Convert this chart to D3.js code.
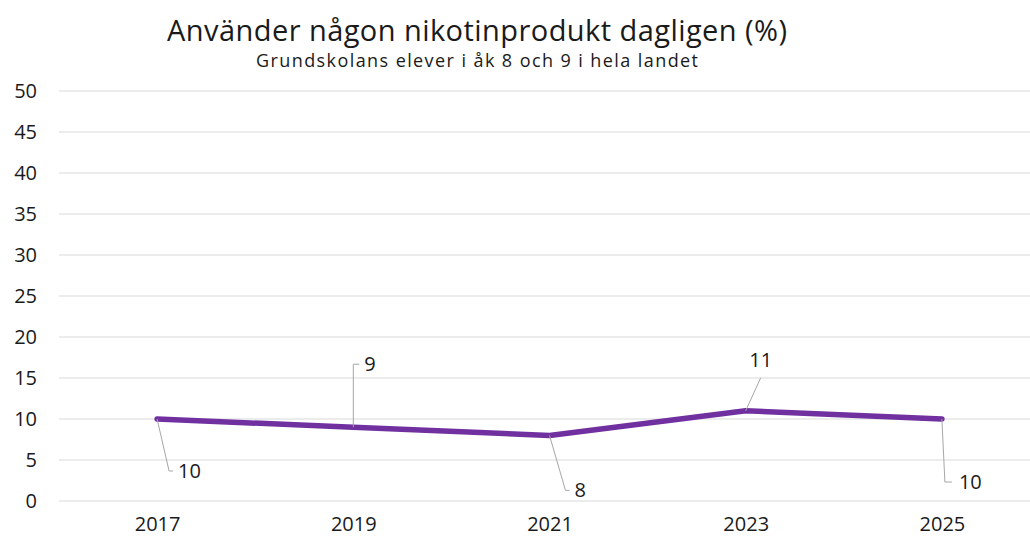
<!DOCTYPE html>
<html>
<head>
<meta charset="utf-8">
<script src="https://cdn.jsdelivr.net/npm/d3@7"></script>
<style>
  body { margin: 0; background: #fff; }
  text { font-family: "Open Sans", "Noto Sans", sans-serif; fill: #1a1a1a; }
</style>
</head>
<body>
<div id="chart"></div>
<script>
var years = ["2017", "2019", "2021", "2023", "2025"];
var values = [10, 9, 8, 11, 10];
var yTicks = [0, 5, 10, 15, 20, 25, 30, 35, 40, 45, 50];
var labelPos = ["below", "above-left", "below", "above", "below"];

var width = 1030;
var height = 539;
var margin = { top: 91, right: -10, bottom: 38, left: 59 };

var svg = d3
  .select("#chart")
  .append("svg")
  .attr("width", width)
  .attr("height", height);

var xScale = d3
  .scalePoint()
  .domain(years)
  .range([margin.left, width - margin.right])
  .padding(0.5);

var yScale = d3
  .scaleLinear()
  .domain([0, 50])
  .range([height - margin.bottom, margin.top]);

// gridlines
svg
  .append("g")
  .selectAll("line")
  .data(yTicks)
  .join("line")
  .attr("x1", margin.left)
  .attr("x2", width)
  .attr("y1", (d) => yScale(d))
  .attr("y2", (d) => yScale(d))
  .attr("stroke", "#d9d9d9")
  .attr("stroke-width", 1);

// y axis labels
var yAxis = svg
  .append("g")
  .attr("transform", "translate(" + (margin.left - 22) + ",0)")
  .call(d3.axisLeft(yScale).tickValues(yTicks).tickSize(0).tickPadding(0));
yAxis.select(".domain").remove();
yAxis.selectAll("text").style("font-size", "20px").attr("fill", "#1a1a1a");

// x axis labels
var xAxis = svg
  .append("g")
  .attr("transform", "translate(0," + (height - margin.bottom) + ")")
  .call(d3.axisBottom(xScale).tickSize(0).tickPadding(16));
xAxis.select(".domain").remove();
xAxis.selectAll("text").style("font-size", "20px").attr("fill", "#1a1a1a");

// line
svg
  .append("path")
  .datum(values)
  .attr("fill", "none")
  .attr("stroke", "#7030a0")
  .attr("stroke-width", 5.5)
  .attr("stroke-linecap", "round")
  .attr("stroke-linejoin", "round")
  .attr(
    "d",
    d3
      .line()
      .x((d, i) => xScale(years[i]))
      .y((d) => yScale(d))
  );

// data labels with leader lines
var leaders = {
  "below": { ex: 12, ey: 52, hx: 4, tx: 9, anchor: "start", ty: 52 },
  "above-left": { ex: 0, ey: -63, hx: 6, tx: 11, anchor: "start", ty: -63 },
  "above": { ex: 15, ey: -33, hx: 0, tx: 0, anchor: "middle", ty: -51 }
};

values.forEach(function (v, i) {
  var px = xScale(years[i]);
  var py = yScale(v);
  var L = leaders[labelPos[i]];
  if (i === 2) L = { ex: 16, ey: 55, hx: 4, tx: 9, anchor: "start", ty: 55 };
  if (i === 4) L = { ex: 3, ey: 63, hx: 7, tx: 14, anchor: "start", ty: 63 };
  var pts = [
    [px, py],
    [px + L.ex, py + L.ey],
    [px + L.ex + L.hx, py + L.ey]
  ];
  svg
    .append("path")
    .attr("d", d3.line()(pts))
    .attr("fill", "none")
    .attr("stroke", "#a6a6a6")
    .attr("stroke-width", 1);
  svg
    .append("text")
    .attr("x", px + L.ex + L.tx)
    .attr("y", py + L.ty)
    .attr("dy", "0.35em")
    .attr("text-anchor", L.anchor)
    .style("font-size", "20px")
    .text(v);
});

// titles
svg
  .append("text")
  .attr("x", 477)
  .attr("y", 41)
  .attr("text-anchor", "middle")
  .attr("textLength", 620)
  .attr("lengthAdjust", "spacing")
  .style("font-size", "29px")
  .text("Använder någon nikotinprodukt dagligen (%)");

svg
  .append("text")
  .attr("x", 477)
  .attr("y", 67)
  .attr("text-anchor", "middle")
  .attr("textLength", 442)
  .attr("lengthAdjust", "spacing")
  .style("font-size", "18px")
  .text("Grundskolans elever i åk 8 och 9 i hela landet");
</script>
</body>
</html>
